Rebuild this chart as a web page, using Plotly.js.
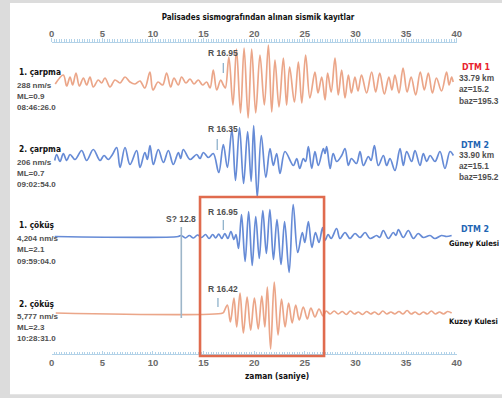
<!DOCTYPE html>
<html><head><meta charset="utf-8">
<script src="https://cdn.plot.ly/plotly-3.0.1.min.js"></script>
<style>html,body{margin:0;padding:0;background:#dcdcdc;}</style>
</head><body>
<div id="chart" style="width:502px;height:398px;"></div>
<script>
// ---------- DATA ----------
const traceNames = ['1. çarpma', '2. çarpma', '1. çöküş', '2. çöküş'];
const velocities = ['288 nm/s', '206 nm/s', '4,204 nm/s', '5,777 nm/s'];
const magnitudes = ['ML=0.9', 'ML=0.7', 'ML=2.1', 'ML=2.3'];
const clockTimes = ['08:46:26.0', '09:02:54.0', '09:59:04.0', '10:28:31.0'];
const rPicks = [16.95, 16.35, 16.95, 16.42];
const sPick = 12.8;
const boxStart = 14.65, boxEnd = 26.9;
const xTicks = [0, 5, 10, 15, 20, 25, 30, 35, 40];

// trace 1 (1. çarpma) : times (s) and amplitudes (px)
const t1 = [0.35,1.15,1.48,1.81,2.07,2.4,2.73,3.13,3.45,3.78,4.11,4.6,4.93,5.26,5.76,6.25,6.75,7.24,7.73,8.23,8.72,9.2,9.7,10.0,10.5,10.96,11.35,11.75,12.08,12.5,12.83,13.26,13.66,14.05,14.48,14.9,15.3,15.64,15.96,16.3,16.69,16.95,17.15,
 17.5,17.9,18.25,18.65,19.0,19.4,19.75,20.15,20.57,21.0,21.4,21.73,22.05,22.45,22.88,23.2,23.5,23.97,24.36,24.7,25.08,25.5,26.0,26.3,26.67,27.0,27.25,27.6,27.98,28.3,28.64,28.97,29.3,29.6,29.95,30.25,30.6,31.1,31.6,32.0,32.4,32.85,33.3,33.6,33.9,34.3,34.7,35.1,35.5,35.95,36.4,36.8,37.2,37.6,38.0,38.5,39.0,39.25,39.5,39.65];
const a1 = [-1,8,-3,6,-2,10,-3,5,-2,6,-4,3,0,5,-4,3,0,6,1,-1,2,-5,11,-7,1,-2,10,-4,5,-2,6,0,4,-1,3,-2,1,-5,13,-7,3,-2,-5,
 26,-22,34,-30,35,-35,34,-30,28,-22,38,-29,23,-24,25,-22,16,-19,21,-20,28,-15,11,-10,6,-17,10,-9,25,-12,13,-15,8,-10,6,-8,8,-10,11,-9,10,-11,6,-7,8,-10,15,-9,6,-12,11,-7,10,-10,5,-8,11,-2,6,1];

// trace 2 (2. çarpma)
const t2 = [0.3,0.49,0.82,1.15,1.48,1.81,2.3,2.96,3.45,4.11,4.77,5.17,5.59,6.0,6.42,6.75,7.24,7.73,8.39,8.72,9.2,9.45,9.71,10.04,10.53,11.03,11.52,12.01,12.51,12.74,13.0,13.66,14.32,14.65,14.98,15.47,15.96,16.5,16.95,17.35,
 17.8,18.15,18.55,18.95,19.35,19.7,19.95,20.3,20.7,21.15,21.56,21.89,22.22,22.55,23.04,23.87,24.2,24.5,24.85,25.08,25.35,25.68,26.0,26.33,26.83,27.0,27.16,27.5,27.8,28.15,28.64,28.97,29.3,29.6,30.1,30.45,30.78,31.28,31.54,31.87,32.26,32.76,33.08,33.41,33.9,34.4,34.73,35.06,35.55,35.88,36.38,36.7,37.04,37.37,37.86,38.35,38.84,39.34,39.67];
const a2 = [-3,3,-4,4,-3,3,-2,7,-3,8,-3,2,-2,3,10,-10,10,-7,7,-10,5,-2,12,-7,8,-5,7,-7,5,-1,8,-2,3,-1,5,0,4,-15,13,-10,
 28,-23,30,-26,26,-24,32,-40,22,-20,9,-8,4,-16,6,-8,-1,-11,-1,-4,11,-11,6,-8,9,4,11,-11,4,-4,2,9,-8,-1,-6,6,-8,1,-3,12,-8,2,-8,-1,-13,9,-8,6,-4,7,-8,4,-4,2,-4,6,-11,6,2];

// trace 3 (1. çöküş)
const t3 = [0.3,12.5,12.8,13.2,13.6,14.0,14.4,14.8,15.2,15.55,15.9,16.2,16.5,16.8,17.1,17.4,17.7,18.0,18.2,18.45,18.75,19.1,19.45,19.8,20.15,20.5,20.85,21.2,21.55,21.9,22.25,22.65,23.0,23.45,23.85,24.3,24.75,25.0,25.35,25.7,26.05,26.4,26.75,27.0,27.3,27.6,
 28.14,28.47,28.97,29.46,29.96,30.45,30.95,31.44,32.1,32.4,32.75,33.25,33.74,34.0,34.24,34.73,35.22,35.72,36.2,36.7,37.36,37.85,38.5,39.0,39.5];
const a3 = [0,0,1,-1.5,1,-1.5,1.5,-1,2,-2,2,-1.5,2.5,-2,3,-2,5,-3,2,-12,22,-25,25,-29,20,-22,26,-17,27,-23,17,-28,15,-36,32,-16,4,-6,15,-11,4,-6,9,-4,2,-2,
 8,-2,4,-2,3,-1,4,-2,1,-1,6,-2,4,1,7,-1,6,-2,3,-1,1,-2,1,0,1];

// trace 4 (2. çöküş)
const t4 = [0.4,16.9,17.0,17.35,17.65,18.0,18.27,18.6,18.93,19.3,19.65,20.02,20.4,20.75,21.05,21.3,21.62,21.98,22.35,22.7,23.05,23.4,23.75,24.1,24.45,24.85,25.25,25.6,26.0,26.4,26.8,27.1,
 27.5,27.9,28.3,28.7,29.1,29.5,29.9,30.3,30.7,31.1,31.5,31.9,32.3,32.7,33.1,33.5,33.9,34.3,34.7,35.1,35.5,35.9,36.3,36.7,37.1,37.5,37.9,38.3,38.7,39.1,39.5];
const a4 = [0,0,1,8,-9,15,-14,20,-20,16,-17,15,-16,17,-14,26,-36,31,-22,14,-14,10,-10,8,-7,6,-6,5,-4,4,-3,2,
 -1,2,-1,1.5,-1.5,2,-1,1,-1.5,1.5,-1,1,-1.5,2,-1,1,-1,1.5,-1,2.5,-1,1,-1.5,1,-1,2,-1,1,-1,1.5,0];

// ---------- LAYOUT CONSTANTS ----------
const W = 502, H = 398;
const PX0 = 51.7, PX1 = 456.7;          // pixel positions of 0 s and 40 s
const baselines = [83, 157.5, 236.5, 313];
const orange = 'rgb(235,166,137)', blue = 'rgb(102,139,214)';
const colors = [orange, blue, blue, orange];
const condensed = '"DejaVu Sans Condensed", "Liberation Sans Narrow", sans-serif';
const sans = '"Liberation Sans", Arial, sans-serif';
const axisBlue = '#b2d2e8';

const series = [[t1,a1],[t2,a2],[t3,a3],[t4,a4]];
const data = series.map(([t,a], i) => ({
  x: t, y: a.map(v => baselines[i] - v),
  type: 'scatter', mode: 'lines',
  line: {color: colors[i], width: 1.7, shape: 'spline', smoothing: 1},
  hoverinfo: 'skip'
}));
// dummy trace so the top axis is drawn
data.push({x: [0, 40], y: [-100, -100], xaxis: 'x2', yaxis: 'y', mode: 'lines', line: {width: 0}, hoverinfo: 'skip'});

const px = v => v / W;
const ann = [];
function txt(text, x, y, size, color, family, anchor) {
  ann.push({text, x: px(x), y, xref: 'paper', yref: 'y', xanchor: anchor || 'left', yanchor: 'middle',
    showarrow: false, font: {size, color, family}});
}
const leftNameY = [72, 149, 225, 304];
const leftInfoY = [[85, 96, 107], [162, 173, 184], [238, 249, 261], [316, 327, 338]];
for (let i = 0; i < 4; i++) {
  txt('<b>' + traceNames[i] + '</b>', 17, leftNameY[i], 8.3, '#111', condensed);
  txt('<b>' + velocities[i] + '</b>', 15, leftInfoY[i][0], 8, '#505050', sans);
  txt('<b>' + magnitudes[i] + '</b>', 15, leftInfoY[i][1], 8, '#505050', sans);
  txt('<b>' + clockTimes[i] + '</b>', 15, leftInfoY[i][2], 8, '#505050', sans);
}
// right side
txt('<b>DTM 1</b>', 460, 67, 8.8, '#e8232e', condensed);
txt('<b>33.79 km</b>', 457, 78, 8.3, '#505050', sans);
txt('<b>az=15.2</b>', 457, 89, 8.3, '#505050', sans);
txt('<b>baz=195.3</b>', 457, 101, 8.3, '#505050', sans);
txt('<b>DTM 2</b>', 459, 145, 8.8, '#1f66b4', condensed);
txt('<b>33.90 km</b>', 457, 155, 8.3, '#505050', sans);
txt('<b>az=15.1</b>', 457, 166, 8.3, '#505050', sans);
txt('<b>baz=195.2</b>', 457, 177, 8.3, '#505050', sans);
txt('<b>DTM 2</b>', 459, 229, 8.8, '#1f66b4', condensed);
txt('<b>Güney Kulesi</b>', 447, 243, 7.6, '#111', condensed);
txt('<b>Kuzey Kulesi</b>', 447, 321, 7.6, '#111', condensed);
// pick labels
const rLabelY = [53, 129, 212, 289];
const rTickY = [[63, 73], [139, 150], [220, 230], [298, 307]];
for (let i = 0; i < 4; i++) txt('<b>R ' + rPicks[i].toFixed(2) + '</b>', 206, rLabelY[i], 8.5, '#505050', sans);
txt('<b>S? ' + sPick + '</b>', 164, 219, 8.5, '#505050', sans);
// bottom axis title
txt('<b>zaman (saniye)</b>', 277, 376, 8.3, '#111', condensed, 'center');

const shapes = [
  {type: 'rect', xref: 'paper', yref: 'paper', x0: px(10), x1: 1, y0: 1 - 394.3 / H, y1: 1 - 3 / H,
   fillcolor: '#ffffff', line: {width: 0}, layer: 'below'},
  {type: 'line', xref: 'x', yref: 'y', x0: sPick, x1: sPick, y0: 227, y1: 318, line: {color: '#9db6c9', width: 1.6}},
  {type: 'rect', xref: 'x', yref: 'y', x0: boxStart, x1: boxEnd, y0: 197, y1: 356, line: {color: '#e06b4e', width: 2.6}}
];
for (let i = 0; i < 4; i++) shapes.push({type: 'line', xref: 'x', yref: 'y', x0: rPicks[i], x1: rPicks[i],
  y0: rTickY[i][0], y1: rTickY[i][1], line: {color: '#8fb2cb', width: 1.3}});

const axCommon = {
  range: [0, 40], domain: [px(PX0), px(PX1)], anchor: 'free',
  tickmode: 'array', tickvals: xTicks, ticktext: xTicks.map(String),
  ticklen: 3.5, tickwidth: 1, tickcolor: axisBlue,
  showline: true, linecolor: axisBlue, linewidth: 1,
  showgrid: false, zeroline: false, fixedrange: true,
  tickfont: {size: 9.5, color: '#6a6a6a', family: sans, weight: 'bold'},
  minor: {dtick: 0.25, tick0: 0, ticks: 'inside', ticklen: 2.5, tickcolor: axisBlue, tickwidth: 1, showgrid: false}
};
const layout = {
  width: W, height: H, margin: {l: 0, r: 0, t: 0, b: 0},
  paper_bgcolor: '#dcdcdc', plot_bgcolor: 'rgba(0,0,0,0)', showlegend: false,
  title: {text: '<b>Palisades sismografından alınan sismik kayıtlar</b>', x: px(258), xanchor: 'center',
    y: 1 - 17.5 / H, yanchor: 'middle', font: {size: 8, color: '#111', family: condensed}},
  xaxis: Object.assign({}, axCommon, {side: 'bottom', position: 1 - 354 / H, ticks: 'inside',
    minor: Object.assign({}, axCommon.minor, {ticks: 'inside'})}),
  xaxis2: Object.assign({}, axCommon, {side: 'top', overlaying: 'x', position: 1 - 41.7 / H, ticks: 'outside',
    ticklabelstandoff: -3, minor: Object.assign({}, axCommon.minor, {ticks: 'outside'})}),
  yaxis: {domain: [0, 1], range: [H, 0], visible: false, fixedrange: true},
  annotations: ann, shapes: shapes
};
Plotly.newPlot('chart', data, layout, {displayModeBar: false, staticPlot: true});
</script>
</body></html>
